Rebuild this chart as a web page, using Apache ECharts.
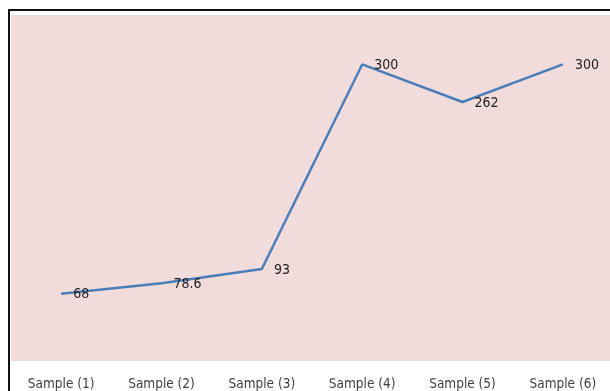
<!DOCTYPE html>
<html>
<head>
<meta charset="utf-8">
<script src="https://cdn.jsdelivr.net/npm/echarts@6/dist/echarts.min.js"></script>
<style>
  html, body { margin: 0; padding: 0; background: #ffffff; }
  #chart { width: 610px; height: 391px; }
</style>
</head>
<body>
<div id="chart"></div>
<script>
// Sample measurements
const categories = ['Sample (1)', 'Sample (2)', 'Sample (3)', 'Sample (4)', 'Sample (5)', 'Sample (6)'];
const values = [68, 78.6, 93, 300, 262, 300];

const chart = echarts.init(document.getElementById('chart'), null, { renderer: 'canvas' });

chart.setOption({
  animation: false,
  backgroundColor: '#ffffff',
  textStyle: { fontFamily: 'Liberation Sans Narrow, DejaVu Sans Condensed, Liberation Sans, sans-serif' },
  graphic: [{
    type: 'rect',
    z: 100,
    shape: { x: 9, y: 10, width: 700, height: 500 },
    style: { fill: 'none', stroke: '#111111', lineWidth: 2 }
  }],
  grid: {
    left: 11,
    top: 15,
    width: 602,
    bottom: 30,
    outerBoundsMode: 'none',
    containLabel: false,
    show: true,
    backgroundColor: '#f2dcdb',
    borderWidth: 0
  },
  xAxis: {
    type: 'category',
    data: categories,
    boundaryGap: true,
    axisLine: { show: false },
    axisTick: { show: false },
    axisLabel: { color: '#404040', fontSize: 13.5, margin: 16 }
  },
  yAxis: {
    type: 'value',
    min: 0,
    max: 350,
    show: false,
    splitLine: { show: false }
  },
  series: [{
    type: 'line',
    data: values,
    symbol: 'circle',
    symbolSize: 0.1,
    showSymbol: true,
    itemStyle: { color: '#4a7ebb' },
    lineStyle: { color: '#4a7ebb', width: 2.5 },
    label: {
      show: true,
      position: 'right',
      distance: 12,
      offset: [0, 1],
      color: '#222222',
      fontSize: 14
    }
  }]
});
</script>
</body>
</html>
